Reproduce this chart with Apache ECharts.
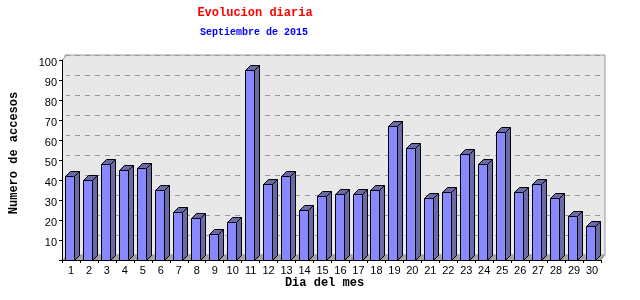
<!DOCTYPE html>
<html>
<head>
<meta charset="utf-8">
<script src="https://cdn.jsdelivr.net/npm/echarts@6/dist/echarts.min.js"></script>
<style>html,body{margin:0;padding:0;background:#fff}#c{width:640px;height:300px}</style>
</head>
<body>
<div id="c"></div>
<script>
const days = ['1','2','3','4','5','6','7','8','9','10','11','12','13','14','15','16','17','18','19','20','21','22','23','24','25','26','27','28','29','30'];
const accesos = [42,40,48,45,46,35,24,21,13,19,95,38,42,25,32,33,33,35,67,56,31,34,53,48,64,34,38,31,22,17];
const yMin = 0, yMax = 100, yStep = 10;

const chart = echarts.init(document.getElementById('c'));
const BAR_D = 5;   // bar depth
const WALL_DX = 4, WALL_DY = 5;

function renderFloor(params, api) {
  const idx = api.value(0);
  const base = api.coord([idx, yMin]);
  const bw = api.size([1, 0])[0];
  const xl = Math.round(base[0] - bw / 2), xr = Math.round(base[0] + bw / 2);
  const y = Math.round(base[1]);
  const children = [{
    type: 'polygon',
    shape: { points: [[xl, y], [xr, y], [xr + WALL_DX, y - WALL_DY], [xl + WALL_DX, y - WALL_DY]] },
    style: { fill: '#a0a0a0', stroke: null }
  }];
  if (idx === 0) {
    const topY = Math.round(api.coord([idx, yMax])[1]);
    children.push({
      type: 'polygon',
      shape: { points: [[xl, topY], [xl + WALL_DX, topY - WALL_DY], [xl + WALL_DX, y - WALL_DY], [xl, y]] },
      style: { fill: '#e8e8e8', stroke: null }
    });
    children.push({
      type: 'line',
      shape: { x1: xl + 0.5, y1: topY, x2: xl + WALL_DX + 0.5, y2: topY - WALL_DY },
      style: { stroke: '#999', lineWidth: 1 }
    });
  }
  if (idx === days.length - 1) {
    children.push({
      type: 'line',
      shape: { x1: xr, y1: y, x2: xr + WALL_DX, y2: y - WALL_DY },
      style: { stroke: '#999', lineWidth: 1 }
    });
  }
  return { type: 'group', children };
}

function renderBar(params, api) {
  const idx = api.value(0), v = api.value(1);
  const base = api.coord([idx, yMin]);
  const top = api.coord([idx, v]);
  const bw = api.size([1, 0])[0];
  const fw = Math.round(bw * 0.5);
  const x0 = Math.round(base[0] - bw * 0.33) + 0.5;
  const x1 = x0 + fw;
  const yt = Math.round(top[1]) + 0.5;
  const yb = Math.round(base[1]) + 0.5;
  const d = BAR_D;
  const dark = { fill: '#6a6aa6', stroke: '#000', lineWidth: 1 };
  return {
    type: 'group',
    children: [
      { type: 'polygon', shape: { points: [[x1, yt], [x1 + d, yt - d], [x1 + d, yb - d], [x1, yb]] }, style: dark },
      { type: 'polygon', shape: { points: [[x0, yt], [x0 + d, yt - d], [x1 + d, yt - d], [x1, yt]] }, style: dark },
      { type: 'rect', shape: { x: x0, y: yt, width: fw, height: yb - yt }, style: { fill: '#8888ff', stroke: '#000', lineWidth: 1 } }
    ]
  };
}

const labelFont = { fontFamily: 'Liberation Sans', fontSize: 11, color: '#000' };
const nameFont = { fontFamily: 'Liberation Mono', fontWeight: 'bold', fontSize: 12, color: '#000' };

chart.setOption({
  animation: false,
  backgroundColor: '#fff',
  title: [
    { text: 'Evolucion diaria', left: 255, top: 7, textAlign: 'center', padding: 0,
      textStyle: { fontFamily: 'Liberation Mono', fontWeight: 'bold', fontSize: 12, color: '#ff0000' } },
    { text: 'Septiembre de 2015', left: 254, top: 27, textAlign: 'center', padding: 0,
      textStyle: { fontFamily: 'Liberation Mono', fontWeight: 'bold', fontSize: 10, color: '#0000ff' } }
  ],
  grid: [
    { left: 61, right: 39, top: 60, bottom: 40, show: false },
    { left: 65, right: 35, top: 55, bottom: 45, show: true, backgroundColor: '#e8e8e8', borderColor: '#999', borderWidth: 1, z: 0 }
  ],
  xAxis: [
    { type: 'category', gridIndex: 0, data: days, z: 10,
      name: 'Dia del mes', nameLocation: 'middle', nameGap: 17, nameMoveOverlap: false,
      nameTextStyle: Object.assign({ padding: [0, 14, 0, 0] }, nameFont),
      axisLine: { lineStyle: { color: '#000', width: 1 } },
      axisTick: { show: true, length: 3, alignWithLabel: false, lineStyle: { color: '#000' } },
      axisLabel: Object.assign({ interval: 0, margin: 5 }, labelFont),
      splitLine: { show: false } },
    { type: 'category', gridIndex: 1, data: days, show: false }
  ],
  yAxis: [
    { type: 'value', gridIndex: 0, min: yMin, max: yMax, interval: yStep, z: 10,
      name: 'Numero de accesos', nameLocation: 'middle', nameGap: 42, nameRotate: 90, nameMoveOverlap: false,
      nameTextStyle: Object.assign({ padding: [0, 0, 0, 14] }, nameFont),
      axisLine: { show: true, lineStyle: { color: '#000', width: 1 } },
      axisTick: { show: true, length: 3, lineStyle: { color: '#000' } },
      axisLabel: Object.assign({ margin: 5, verticalAlign: 'top', lineHeight: 5, formatter: v => v === 0 ? '' : String(v) }, labelFont),
      splitLine: { show: false } },
    { type: 'value', gridIndex: 1, min: yMin, max: yMax, interval: yStep, z: 1,
      axisLine: { show: false }, axisTick: { show: false }, axisLabel: { show: false },
      splitLine: { show: true, lineStyle: { color: '#999', type: [5, 5], width: 1 } } }
  ],
  series: [
    { type: 'custom', name: 'floor', xAxisIndex: 0, yAxisIndex: 0, z: 2,
      data: days.map((d, i) => [i, yMin]), encode: { x: 0, y: 1 }, renderItem: renderFloor, silent: true },
    { type: 'custom', name: 'Accesos', xAxisIndex: 0, yAxisIndex: 0, z: 3,
      data: accesos.map((v, i) => [i, v]), encode: { x: 0, y: 1 }, renderItem: renderBar }
  ]
});
</script>
</body>
</html>
